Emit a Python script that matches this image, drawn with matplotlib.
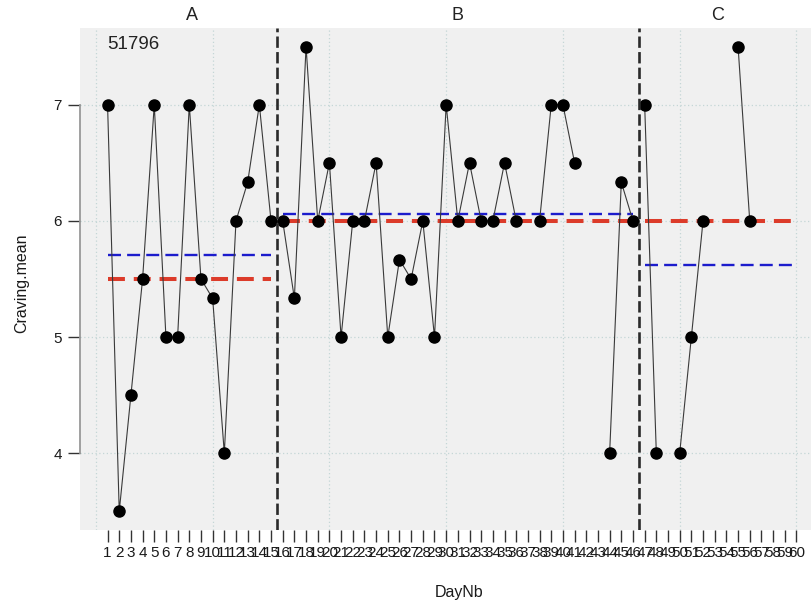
import numpy as np
import matplotlib.pyplot as plt

plt.rcParams['font.family'] = ['Liberation Sans', 'DejaVu Sans']

nan = np.nan

# daily craving means, one list per phase (nan = day without a value)
phases = ['A', 'B', 'C']
phase_days = [list(range(1, 16)), list(range(16, 47)), list(range(47, 61))]
craving_a = [7, 3.5, 4.5, 5.5, 7, 5, 5, 7, 5.5, 5.333, 4, 6, 6.333, 7, 6]
craving_b = [6, 5.333, 7.5, 6, 6.5, 5, 6, 6, 6.5, 5, 5.667, 5.5, 6, 5, 7,
             6, 6.5, 6, 6, 6.5, 6, nan, 6, 7, 7, 6.5, nan, nan, 4, 6.333, 6]
craving_c = [7, 4, nan, 4, 5, 6, nan, nan, 7.5, 6, nan, nan, nan, nan]
phase_mean = [5.71, 6.06, 5.62]
phase_median = [5.5, 6.0, 6.0]
phase_breaks = [15.5, 46.5]
subject = '51796'
day_ticks = list(range(1, 61))

fig = plt.figure(figsize=(8.11, 6.05), dpi=100)
W, H = 811, 605
# panel runs a little past the right edge of the figure
left, right, top, bottom = 80, 824, 28, 530
ax = fig.add_axes([left / W, 1 - bottom / H, (right - left) / W, (bottom - top) / H])
ax.set_facecolor('#f0f0f0')
ax.set_xlim(-1.36, 62.36)
ax.set_ylim(3.34, 7.66)

# dotted reference grid
for gx in range(0, 61, 10):
    ax.axvline(gx, color='#c4d6d6', lw=0.9, ls=(0, (1, 2)), zorder=1)
for gy in [4, 5, 6, 7]:
    ax.axhline(gy, color='#c4d6d6', lw=0.9, ls=(0, (1, 2)), zorder=1)

series = [craving_a, craving_b, craving_c]
for days, vals, m, md in zip(phase_days, series, phase_mean, phase_median):
    x0, x1 = days[0], days[-1]
    ax.plot([x0, x1], [md, md], color='#dc3b2a', lw=2.9,
            ls=(0, (4.2, 2.2)), zorder=2, solid_capstyle='butt')
    ax.plot([x0, x1], [m, m], color='#1c1ccc', lw=1.7,
            ls=(0, (5.5, 2.6)), zorder=2)
    ax.plot(days, vals, color='#3a3a3a', lw=0.8, zorder=3)
    ax.plot(days, vals, 'o', color='black', ms=8, zorder=4)

for b in phase_breaks:
    ax.axvline(b, color='#2a2a2a', lw=1.9, ls=(0, (4.3, 1.6)), zorder=5)

# phase names above the panel
strip_edges = [1] + phase_breaks + [60]
for i, name in enumerate(phases):
    cx = (strip_edges[i] + strip_edges[i + 1]) / 2
    ax.text(cx, 1.0 + 13 / (bottom - top), name, transform=ax.get_xaxis_transform(),
            ha='center', va='center', fontsize=13, color='#222222')

ax.text(1, 7.52, subject, ha='left', va='center', fontsize=13.5, color='#222222')

ax.set_xticks(day_ticks)
ax.set_xticklabels([str(d) for d in day_ticks])
ax.set_yticks([4, 5, 6, 7])
ax.tick_params(axis='x', length=8.6, width=1, color='#333333', pad=3,
               labelsize=11, labelcolor='#1a1a1a')
ax.tick_params(axis='y', length=8.6, width=1, color='#333333', pad=4.5,
               labelsize=11, labelcolor='#1a1a1a')

for s in ['top', 'right', 'bottom']:
    ax.spines[s].set_visible(False)
ax.spines['left'].set_bounds(4, 7)
ax.spines['left'].set_color('#999999')
ax.spines['left'].set_linewidth(1.3)

ax.set_xlabel('DayNb', fontsize=11.5, color='#1a1a1a', va='center')
ax.set_ylabel('Craving.mean', fontsize=11.5, color='#1a1a1a', va='center')
ax.xaxis.set_label_coords((459 - left) / (right - left), -(592 - bottom) / (bottom - top))
ax.yaxis.set_label_coords(-(left - 22) / (right - left), (bottom - 283) / (bottom - top))

fig.savefig('out.png', dpi=100)
